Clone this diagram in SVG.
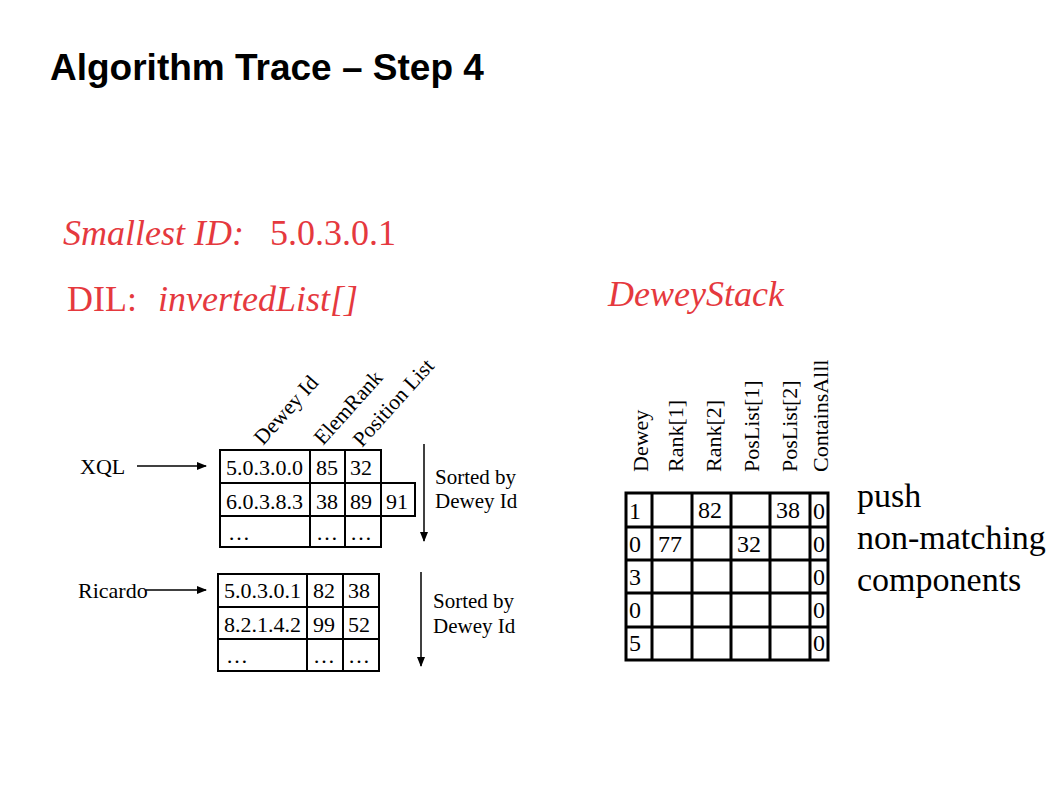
<svg xmlns="http://www.w3.org/2000/svg" width="1058" height="793" viewBox="0 0 1058 793">
<style>
.t{font-family:"Liberation Serif","Times New Roman",serif;fill:#000}
.cell{font-size:22px}
.cellb{font-size:24px}
.red{fill:#e5393e;font-family:"Liberation Serif","Times New Roman",serif;font-size:36px}
.grid{fill:none;stroke:#000;stroke-width:2}
.gridb{fill:none;stroke:#000;stroke-width:3}
.arr{stroke:#000;stroke-width:1.5;fill:none;marker-end:url(#ah)}
</style>
<defs>
<marker id="ah" markerWidth="10" markerHeight="8" refX="9" refY="4" orient="auto" markerUnits="userSpaceOnUse">
<path d="M0,0 L10,4 L0,8 z" fill="#000"/>
</marker>
</defs>
<rect width="1058" height="793" fill="#fff"/>
<text x="50" y="80" font-family="Liberation Sans,Arial,sans-serif" font-weight="bold" font-size="37">Algorithm Trace – Step 4</text>
<text class="red" x="63" y="245"><tspan font-style="italic">Smallest ID:</tspan><tspan x="270">5.0.3.0.1</tspan></text>
<text class="red" x="67" y="311">DIL:<tspan x="158" font-style="italic">invertedList[]</tspan></text>
<text class="red" x="608" y="306" font-style="italic">DeweyStack</text>

<g id="xql-list">
<text class="t" x="80" y="474" font-size="22">XQL</text>
<g class="t" font-size="21.5">
<text transform="translate(263,446) rotate(-48)">Dewey Id</text>
<text transform="translate(323,446) rotate(-48)">ElemRank</text>
<text transform="translate(362,448) rotate(-48)">Position List</text>
</g>
<rect class="grid" x="220" y="450" width="161" height="97"/>
<path class="grid" d="M310,450 V547 M345,450 V547 M220,483 H381 M220,516 H381"/>
<rect class="grid" x="381" y="483" width="34" height="33"/>
<g class="t cell">
<text x="226" y="475">5.0.3.0.0</text><text x="316" y="475">85</text><text x="350" y="475">32</text>
<text x="226" y="509">6.0.3.8.3</text><text x="316" y="509">38</text><text x="350" y="509">89</text><text x="386" y="509">91</text>
<text x="228" y="540">…</text><text x="316" y="540">…</text><text x="350" y="540">…</text>
</g>
<text class="t" x="435" y="484" font-size="21">Sorted by</text>
<text class="t" x="435" y="508" font-size="21">Dewey Id</text>
</g>

<g id="ricardo-list">
<text class="t" x="78" y="598" font-size="22">Ricardo</text>
<rect class="grid" x="218" y="574" width="161" height="97"/>
<path class="grid" d="M307,574 V671 M343,574 V671 M218,607 H379 M218,639 H379"/>
<g class="t cell">
<text x="224" y="598">5.0.3.0.1</text><text x="313" y="598">82</text><text x="348" y="598">38</text>
<text x="224" y="632">8.2.1.4.2</text><text x="313" y="632">99</text><text x="348" y="632">52</text>
<text x="226" y="663">…</text><text x="313" y="663">…</text><text x="348" y="663">…</text>
</g>
<text class="t" x="433" y="608" font-size="21">Sorted by</text>
<text class="t" x="433" y="633" font-size="21">Dewey Id</text>
</g>

<g id="dewey-stack">
<g class="t" font-size="22">
<text transform="translate(648,472) rotate(-90)">Dewey</text>
<text transform="translate(683,472) rotate(-90)">Rank[1]</text>
<text transform="translate(721,472) rotate(-90)">Rank[2]</text>
<text transform="translate(759,472) rotate(-90)">PosList[1]</text>
<text transform="translate(797,472) rotate(-90)">PosList[2]</text>
<text transform="translate(828,472) rotate(-90)">ContainsAlll</text>
</g>
<rect class="gridb" x="626" y="493" width="202" height="167"/>
<path class="gridb" d="M652,493 V660 M692,493 V660 M731,493 V660 M770,493 V660 M810,493 V660 M626,527 H828 M626,560 H828 M626,593 H828 M626,627 H828"/>
<g class="t cellb">
<text x="629" y="519">1</text><text x="698" y="518">82</text><text x="776" y="518">38</text><text x="813" y="519">0</text>
<text x="629" y="552">0</text><text x="658" y="552">77</text><text x="737" y="552">32</text><text x="813" y="552">0</text>
<text x="629" y="585">3</text><text x="813" y="585">0</text>
<text x="629" y="618">0</text><text x="813" y="618">0</text>
<text x="629" y="651">5</text><text x="813" y="651">0</text>
</g>
</g>

<g id="note" class="t" font-size="34">
<text x="857" y="507">push</text>
<text x="857" y="549">non-matching</text>
<text x="857" y="591">components</text>
</g>

<g id="connectors">
<line class="arr" x1="137" y1="466" x2="206" y2="466"/>
<line class="arr" x1="146" y1="590" x2="206" y2="590"/>
<line class="arr" x1="424" y1="444" x2="424" y2="541"/>
<line class="arr" x1="421" y1="572" x2="421" y2="666"/>
</g>
</svg>
